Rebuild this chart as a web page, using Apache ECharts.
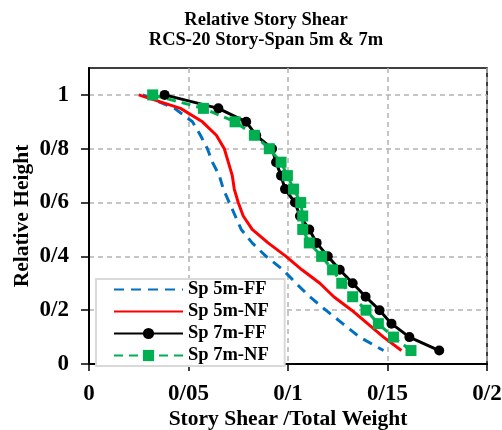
<!DOCTYPE html>
<html>
<head>
<meta charset="utf-8">
<script src="https://cdn.jsdelivr.net/npm/echarts@6/dist/echarts.min.js"></script>
<style>
  html, body { margin: 0; padding: 0; background: #fff; }
  #main { width: 502px; height: 430px; }
</style>
</head>
<body>
<div id="main"></div>
<script>
var chartDom = document.getElementById('main');
var myChart = echarts.init(chartDom);
var option;

// relative height of each story level (top to bottom)
var heights = [1, 0.95, 0.9, 0.85, 0.8, 0.75, 0.7, 0.65, 0.6, 0.55, 0.5, 0.45, 0.4, 0.35, 0.3, 0.25, 0.2, 0.15, 0.1, 0.05];

// story shear / total weight
var sp5FF = [0.027, 0.043, 0.052, 0.056, 0.0595, 0.062, 0.0655, 0.0675, 0.0705, 0.0735, 0.0765, 0.082, 0.089, 0.0975, 0.104, 0.111, 0.119, 0.1275, 0.136, 0.148];
var sp5NF = [0.025, 0.046, 0.057, 0.064, 0.068, 0.070, 0.072, 0.073, 0.075, 0.0775, 0.082, 0.090, 0.099, 0.107, 0.116, 0.123, 0.132, 0.140, 0.148, 0.157];
var sp7FF = [0.038, 0.065, 0.079, 0.084, 0.092, 0.094, 0.0965, 0.0985, 0.1035, 0.106, 0.1107, 0.1144, 0.120, 0.126, 0.1325, 0.139, 0.146, 0.152, 0.161, 0.176];
var sp7NF = [0.032, 0.0575, 0.0734, 0.0831, 0.0906, 0.0965, 0.0997, 0.1028, 0.1064, 0.1074, 0.1074, 0.1107, 0.1169, 0.1224, 0.127, 0.1325, 0.1392, 0.1454, 0.153, 0.1618];

var yTicks = [0, 0.2, 0.4, 0.6, 0.8, 1];

function pairs(xs) {
  return xs.map(function (x, i) { return [x, heights[i]]; });
}
function fmt(v) {
  return String(+(+v).toFixed(2)).replace('.', '/');
}

var serif = 'Liberation Serif, Times New Roman, serif';
var noMarker = { opacity: 0 };

option = {
  animation: false,
  backgroundColor: '#fff',
  title: {
    text: 'Relative Story Shear\nRCS-20 Story-Span 5m & 7m',
    left: 266,
    top: 10,
    padding: 0,
    textAlign: 'center',
    textStyle: { fontFamily: serif, fontWeight: 'bold', fontSize: 18.5, lineHeight: 20, color: '#000' }
  },
  legend: {
    orient: 'vertical',
    left: 96,
    top: 279,
    padding: [1, 16, 1, 17],
    itemWidth: 69,
    itemHeight: 14,
    itemGap: 3,
    backgroundColor: '#fff',
    borderColor: '#d9d9d9',
    borderWidth: 2,
    textStyle: { fontFamily: serif, fontWeight: 'bold', fontSize: 18.5, lineHeight: 18, color: '#000' },
    data: [
      { name: 'Sp 5m-FF', itemStyle: noMarker },
      { name: 'Sp 5m-NF', itemStyle: noMarker },
      'Sp 7m-FF',
      'Sp 7m-NF'
    ]
  },
  grid: {
    left: 89,
    right: 15,
    top: 68,
    bottom: 66,
    containLabel: false,
    outerBoundsMode: 'none',
    show: true,
    borderColor: '#000',
    borderWidth: 1.5
  },
  xAxis: {
    type: 'value',
    min: 0,
    max: 0.2,
    interval: 0.05,
    name: 'Story Shear /Total Weight',
    nameLocation: 'middle',
    nameGap: 44,
    nameMoveOverlap: false,
    nameTextStyle: { fontFamily: serif, fontWeight: 'bold', fontSize: 21.5, color: '#000' },
    axisLine: { lineStyle: { color: '#000', width: 2 } },
    axisTick: { show: true, inside: false, length: 7, lineStyle: { color: '#000', width: 1.5 } },
    axisLabel: { margin: 19, formatter: fmt, fontFamily: serif, fontWeight: 'bold', fontSize: 23, color: '#000' },
    splitLine: { show: true, lineStyle: { color: '#b3b3b3', type: [5, 4], width: 1.5 } }
  },
  yAxis: {
    type: 'value',
    min: 0,
    max: 1.1,
    interval: 0.2,
    name: 'Relative Height',
    nameLocation: 'middle',
    nameGap: 56,
    nameMoveOverlap: false,
    nameTextStyle: { fontFamily: serif, fontWeight: 'bold', fontSize: 21.5, color: '#000' },
    axisLine: { lineStyle: { color: '#000', width: 2 } },
    axisTick: { show: true, inside: false, length: 8, customValues: yTicks, lineStyle: { color: '#000', width: 1.5 } },
    axisLabel: { margin: 20, customValues: yTicks, formatter: fmt, fontFamily: serif, fontWeight: 'bold', fontSize: 23, color: '#000' },
    splitLine: { show: true, lineStyle: { color: '#b3b3b3', type: [5, 4], width: 1.5 } }
  },
  series: [
    {
      name: 'Sp 5m-FF',
      type: 'line',
      symbol: 'none',
      data: pairs(sp5FF),
      lineStyle: { color: '#0070C0', width: 3, type: [10, 7] },
      itemStyle: { color: '#0070C0' }
    },
    {
      name: 'Sp 5m-NF',
      type: 'line',
      symbol: 'none',
      data: pairs(sp5NF),
      lineStyle: { color: '#FF0000', width: 3 },
      itemStyle: { color: '#FF0000' }
    },
    {
      name: 'Sp 7m-FF',
      type: 'line',
      symbol: 'circle',
      symbolSize: 10,
      data: pairs(sp7FF),
      lineStyle: { color: '#000', width: 3 },
      itemStyle: { color: '#000' }
    },
    {
      name: 'Sp 7m-NF',
      type: 'line',
      symbol: 'rect',
      symbolSize: 11,
      data: pairs(sp7NF),
      lineStyle: { color: '#00B050', width: 3, type: [9, 6] },
      itemStyle: { color: '#00B050' }
    }
  ]
};

option && myChart.setOption(option);
</script>
</body>
</html>
